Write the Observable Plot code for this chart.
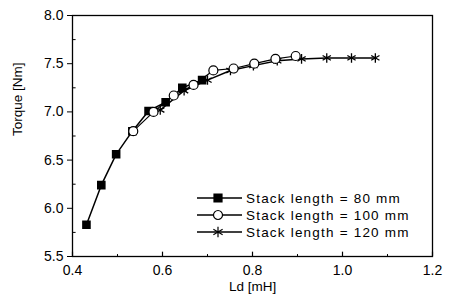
<!DOCTYPE html>
<html>
<head>
<meta charset="utf-8">
<script src="https://cdn.jsdelivr.net/npm/d3@7"></script>
<script src="https://cdn.jsdelivr.net/npm/@observablehq/plot@0.6"></script>
<style>
  html, body { margin: 0; padding: 0; background: #fff; }
  #wrap { position: relative; width: 450px; height: 298px; font-family: "Liberation Sans", Arial, sans-serif; }
  #legend { position: absolute; left: 0; top: 0; pointer-events: none; }
</style>
</head>
<body>
<div id="wrap"></div>
<script>
// ---- data ----
const seriesNames = ["Stack length = 80 mm", "Stack length = 100 mm", "Stack length = 120 mm"];
const ld80  = [0.431, 0.464, 0.497, 0.533, 0.569, 0.607, 0.644, 0.688];
const tq80  = [5.83, 6.24, 6.56, 6.80, 7.01, 7.10, 7.25, 7.33];
const ld100 = [0.535, 0.580, 0.625, 0.669, 0.713, 0.758, 0.804, 0.851, 0.896];
const tq100 = [6.80, 7.00, 7.17, 7.28, 7.43, 7.45, 7.50, 7.55, 7.58];
const ld120 = [0.595, 0.648, 0.700, 0.751, 0.802, 0.855, 0.909, 0.965, 1.020, 1.073];
const tq120 = [7.02, 7.22, 7.33, 7.43, 7.48, 7.53, 7.55, 7.56, 7.56, 7.56];
const xTicks = [0.4, 0.6, 0.8, 1.0, 1.2];
const yTicks = [5.5, 6.0, 6.5, 7.0, 7.5, 8.0];
const yMinor = [5.75, 6.25, 6.75, 7.25, 7.75];
const xMinor = [0.5, 0.7, 0.9, 1.1];

const toRows = (xs, ys) => xs.map((x, i) => ({x, y: ys[i]}));
const s80 = toRows(ld80, tq80), s100 = toRows(ld100, tq100), s120 = toRows(ld120, tq120);

const font = '"Liberation Sans", Arial, sans-serif';
const chart = Plot.plot({
  width: 450, height: 298,
  marginLeft: 72, marginRight: 18, marginTop: 15, marginBottom: 42,
  style: {fontFamily: font, background: "#fff", color: "#000"},
  x: {domain: [0.4, 1.2]},
  y: {domain: [5.5, 8.0]},
  marks: [
    Plot.frame({stroke: "#000", strokeWidth: 1.3}),
    Plot.axisX({ticks: xTicks, tickFormat: d3.format(".1f"), tickSize: 0, tickPadding: 9, fontSize: 14, label: null, style: {letterSpacing: "1.5px"}}),
    Plot.ruleX(xTicks, {x: d => d, y1: 5.5, y2: 5.545, stroke: "#000", strokeWidth: 1.2}),
    Plot.ruleX(xMinor, {x: d => d, y1: 5.5, y2: 5.52, stroke: "#000", strokeWidth: 1}),
    Plot.axisY({ticks: yTicks, tickFormat: d3.format(".1f"), tickSize: 5, tickPadding: 4, fontSize: 14, label: null, style: {letterSpacing: "1.5px"}}),
    Plot.ruleY(yMinor, {y: d => d, x1: 0.4, x2: 0.408, stroke: "#000", strokeWidth: 1}),
    Plot.text(["Torque [Nm]"], {frameAnchor: "left", dx: -55, rotate: -90, fontSize: 13.5, fill: "#000", style: {letterSpacing: "0.6px"}}),
    Plot.text(["Ld [mH]"], {frameAnchor: "bottom", dy: 34, fontSize: 13.5, fill: "#000", style: {letterSpacing: "0.6px"}}),
    Plot.line(s80, {x: "x", y: "y", stroke: "#000", strokeWidth: 1.5}),
    Plot.dot(s80, {x: "x", y: "y", symbol: "square", r: 4, fill: "#000", stroke: "#000"}),
    Plot.line(s120, {x: "x", y: "y", stroke: "#000", strokeWidth: 1.5}),
    Plot.dot(s120, {x: "x", y: "y", symbol: "asterisk", r: 4.5, stroke: "#000", strokeWidth: 1.3}),
    Plot.line(s100, {x: "x", y: "y", stroke: "#000", strokeWidth: 1.2}),
    Plot.dot(s100, {x: "x", y: "y", symbol: "circle", r: 4.5, fill: "#fff", stroke: "#000", strokeWidth: 1.2})
  ]
});
const wrap = document.getElementById("wrap");
wrap.appendChild(chart);

// legend overlay
const symbols = ["square", "circle", "asterisk"];
const lg = d3.create("svg").attr("id", "legend").attr("width", 450).attr("height", 298);
const rowY = i => 198 + i * 17;
seriesNames.forEach((name, i) => {
  const g = lg.append("g").attr("transform", `translate(0,${rowY(i)})`);
  g.append("line").attr("x1", 197).attr("x2", 242).attr("y1", 0).attr("y2", 0).attr("stroke", "#000").attr("stroke-width", 1.5);
  let path;
  if (symbols[i] === "square") path = d3.symbol(d3.symbolSquare, 64)();
  else if (symbols[i] === "circle") path = d3.symbol(d3.symbolCircle, 64)();
  else path = d3.symbol(d3.symbolAsterisk, 80)();
  g.append("path").attr("d", path).attr("transform", "translate(218,0)")
    .attr("fill", symbols[i] === "square" ? "#000" : symbols[i] === "circle" ? "#fff" : "none")
    .attr("stroke", "#000").attr("stroke-width", 1.2);
  g.append("text").attr("x", 246).attr("y", 0).attr("dy", "0.36em")
    .attr("font-size", 13.5).attr("font-family", font).attr("letter-spacing", "1.2px").attr("fill", "#000").text(name);
});
wrap.appendChild(lg.node());
</script>
</body>
</html>
